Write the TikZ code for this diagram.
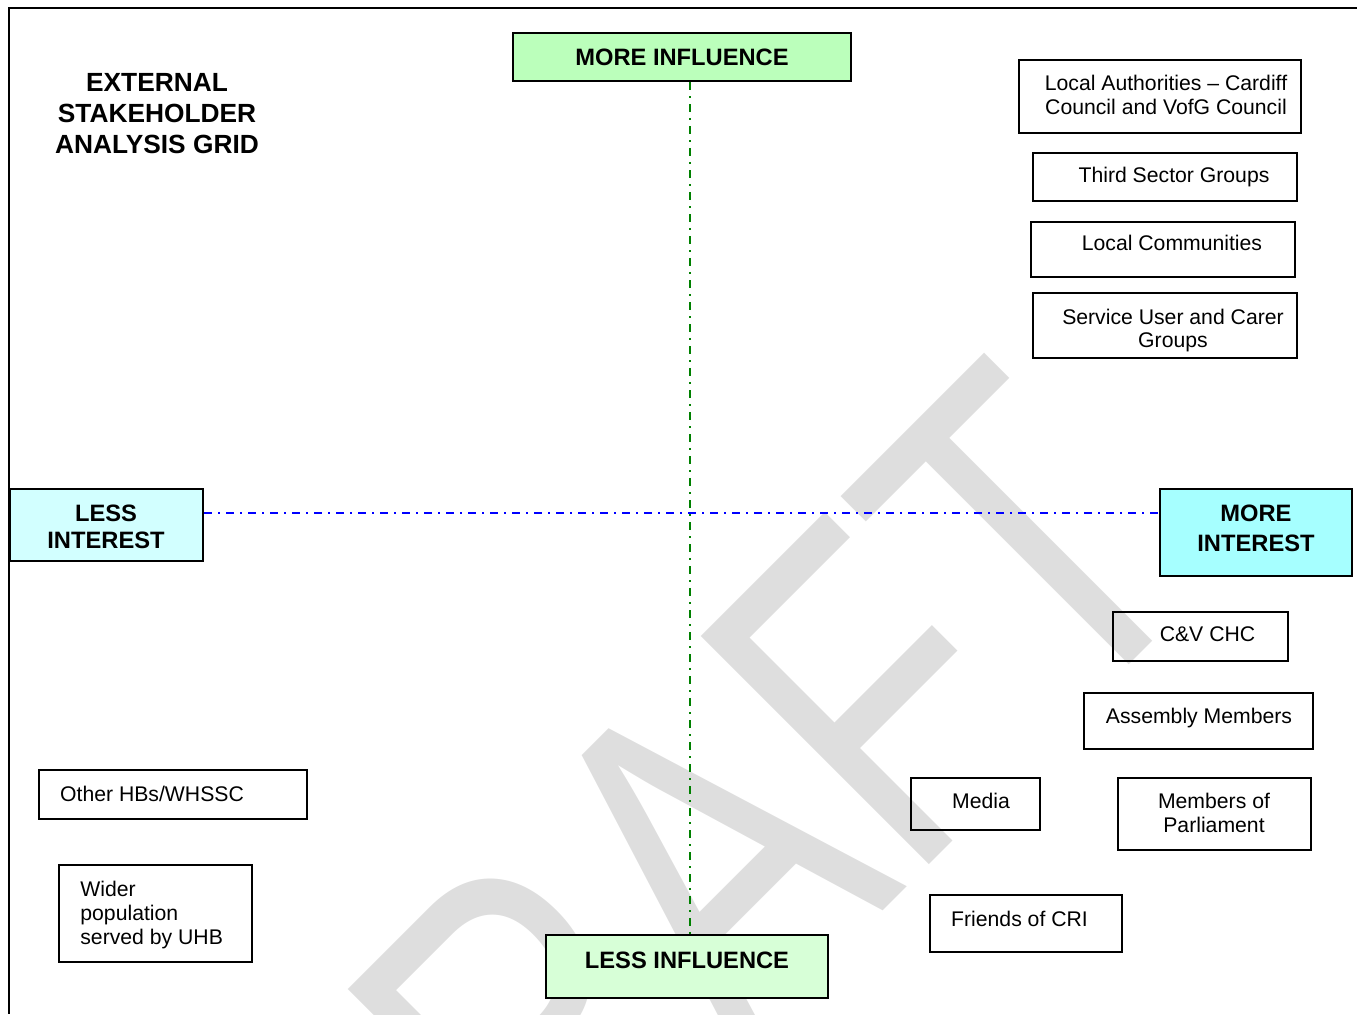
\documentclass[tikz,border=0pt]{standalone}
\usepackage{fontspec}
\setmainfont{Liberation Sans}
\usetikzlibrary{fit}

\definecolor{inflhi}{RGB}{187,255,187}
\definecolor{infllo}{RGB}{215,255,215}
\definecolor{intlo}{RGB}{210,255,255}
\definecolor{inthi}{RGB}{166,255,255}
\definecolor{axisgreen}{RGB}{0,128,0}
\definecolor{axisblue}{RGB}{0,0,255}
\definecolor{wmgray}{RGB}{222,222,222}

\begin{document}
\begin{tikzpicture}[x=0.5pt,y=-0.5pt,
  box/.style={draw=black, line width=0.75pt, inner sep=0pt},
  keybox/.style={draw=black, line width=1pt, inner sep=0pt},
  txt/.style={font=\fontsize{10.6pt}{11.85pt}\selectfont, inner sep=0pt, anchor=base, align=center},
  key/.style={font=\bfseries\fontsize{11.85pt}{13.3pt}\selectfont, inner sep=0pt, anchor=base, align=center},
  axis/.style={line width=0.9pt, dash pattern=on 4pt off 3pt on 1pt off 3pt}]
\useasboundingbox (0,0) rectangle (1357,1014);

% watermark, clipped to the page
\begin{scope}
  \clip (0,0) rectangle (1357,1014);
  \begin{scope}[shift={(372,1422)}, rotate=45, xscale=0.7655]
    \node[transform shape, anchor=base west, inner sep=0pt, text=wmgray,
          font=\fontsize{234.5pt}{240pt}\selectfont] (wm) at (0,0) {DRAFT};
  \end{scope}
\end{scope}

% page frame
\draw[line width=1pt] (1357,8) -- (9,8) -- (9,1014);

% title (multi-line nodes sit on the baseline of their last line)
\node[key, font=\bfseries\fontsize{13.15pt}{15.4pt}\selectfont] (title) at (157,153.3)
  {EXTERNAL\\STAKEHOLDER\\ANALYSIS GRID};

% axis end boxes
\node[keybox, fill=inflhi, fit={(513,33) (851,81)}] (moreinf) {};
\node[key] (moreinf-t) at (682,65) {MORE INFLUENCE};
\node[keybox, fill=infllo, fit={(546,935) (828,998)}] (lessinf) {};
\node[key] (lessinf-t) at (687,968) {LESS INFLUENCE};
\node[keybox, fill=intlo, fit={(10,489) (203,561)}] (lessint) {};
\node[key] (lessint-t) at (106,548.3) {LESS\\INTEREST};
\node[keybox, fill=inthi, fit={(1160,489) (1352,576)}] (moreint) {};
\node[key, font=\bfseries\fontsize{11.85pt}{15pt}\selectfont] (moreint-t) at (1256,551.7) {MORE\\INTEREST};

% axes
\coordinate (c) at (690,513);
\draw[axis, axisblue] (lessint.east |- c) -- (moreint.west |- c);
\draw[axis, axisgreen] (moreinf.south -| c) -- (lessinf.north -| c);

% stakeholders
\node[box, fit={(1019,60) (1301,133)}] (la) {};
\node[txt] (la-t) at (1166,114.3) {Local Authorities -- Cardiff\\Council and VofG Council};
\node[box, fit={(1033,153) (1297,201)}] (tsg) {};
\node[txt] (tsg-t) at (1174,182.7) {Third Sector Groups};
\node[box, fit={(1031,222) (1295,277)}] (lc) {};
\node[txt] (lc-t) at (1172,250) {Local Communities};
\node[box, fit={(1033,293) (1297,358)}] (su) {};
\node[txt] (su-t) at (1173,347.7) {Service User and Carer\\Groups};

\node[box, fit={(1113,612) (1288,661)}] (chc) {};
\node[txt] (chc-t) at (1207.5,641.7) {C\&V CHC};
\node[box, fit={(1084,693) (1313,749)}] (am) {};
\node[txt] (am-t) at (1199,723.3) {Assembly Members};
\node[box, fit={(911,778) (1040,830)}] (media) {};
\node[txt] (media-t) at (981,808.3) {Media};
\node[box, fit={(1118,778) (1311,850)}] (mp) {};
\node[txt, font=\fontsize{10.6pt}{12.2pt}\selectfont] (mp-t) at (1214,832.7) {Members of\\Parliament};
\node[box, fit={(930,895) (1122,952)}] (cri) {};
\node[txt] (cri-t) at (1019.5,926) {Friends of CRI};

\node[box, fit={(39,770) (307,819)}] (hbs) {};
\node[txt] (hbs-t) at (152,801.7) {Other HBs/WHSSC};
\node[box, fit={(59,865) (252,962)}] (pop) {};
\node[txt, anchor=base west, align=left] (pop-t) at (80,944.3) {Wider\\population\\served by UHB};
\end{tikzpicture}
\end{document}
